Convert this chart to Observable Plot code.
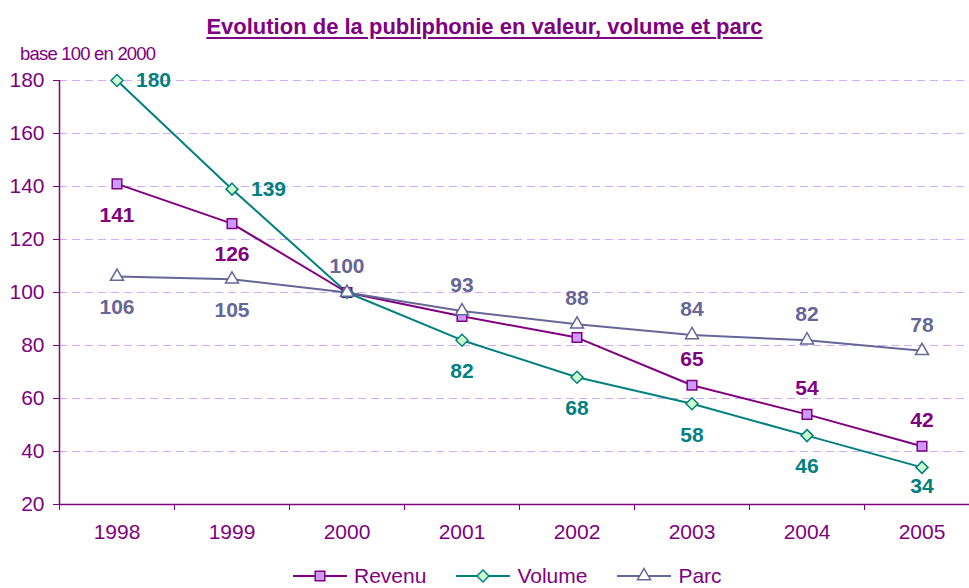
<!DOCTYPE html>
<html><head><meta charset="utf-8">
<script src="https://cdn.jsdelivr.net/npm/d3@7"></script>
<script src="https://cdn.jsdelivr.net/npm/@observablehq/plot@0.6"></script>
<style>
body{margin:0;background:#fff;font-family:"Liberation Sans",Arial,sans-serif;}
#wrap{position:relative;width:969px;height:588px;overflow:hidden;}
#chart{position:absolute;left:0;top:0;}
#title{position:absolute;left:0;width:969px;top:14px;text-align:center;font-weight:bold;font-size:22px;color:#800080;text-decoration:underline;text-underline-offset:3px;text-decoration-thickness:2px;}
#ylab{position:absolute;left:20px;top:43px;font-size:18.5px;color:#800080;letter-spacing:-0.8px;}
#legend{position:absolute;left:293px;top:564px;display:flex;align-items:center;gap:30px;font-size:21px;line-height:23px;color:#800080;}
.item{display:flex;align-items:center;gap:7px;}
</style>
</head><body>
<div id="wrap">
<div id="chart"></div>
<div id="title">Evolution de la publiphonie en valeur, volume et parc</div>
<div id="ylab">base 100 en 2000</div>
<div id="legend"></div>
</div>
<script>
const years = [1998, 1999, 2000, 2001, 2002, 2003, 2004, 2005];
const revenu = [141, 126, 100, 91, 83, 65, 54, 42];
const volume = [180, 139, 100, 82, 68, 58, 46, 34];
const parc   = [106, 105, 100, 93, 88, 84, 82, 78];
const yTicks = [20, 40, 60, 80, 100, 120, 140, 160, 180];
const seriesNames = ["Revenu", "Volume", "Parc"];

// which data labels are shown and where
const labelPlacement = {
  Revenu: ["below", "below", null, null, null, "above", "above", "above"],
  Volume: ["right", "right", null, "below", "below", "below", "below", "near"],
  Parc:   ["below", "below", "above", "above", "above", "above", "above", "above"]
};

const styles = {
  Revenu: {stroke: "#800080", fill: "#cc99ff", symbol: "square", r: 5.4},
  Volume: {stroke: "#008080", fill: "#ccffcc", symbol: "diamond2", r: 5.4},
  Parc:   {stroke: "#666699", fill: "#ffffff", symbol: "triangle2", r: 6.2}
};

const values = {Revenu: revenu, Volume: volume, Parc: parc};
const purple = "#800080";

const xDomain = [years[0] - 0.5, years[years.length - 1] + 0.5];
const boundaries = years.map(y => y - 0.5).concat([years[years.length - 1] + 0.5]);

const marks = [
  Plot.gridY(yTicks.slice(1), {stroke: "#d4aaff", strokeOpacity: 1, strokeDasharray: "8,5", strokeWidth: 1}),
  Plot.ruleY([yTicks[0]], {stroke: purple, strokeWidth: 1.5}),
  Plot.ruleX([xDomain[0]], {stroke: purple, strokeWidth: 1.5}),
  Plot.axisY(yTicks, {tickSize: 6, tickPadding: 9, label: null, stroke: purple, fill: purple}),
  Plot.axisX(boundaries, {tickSize: 6, tickFormat: () => "", label: null, stroke: purple}),
  Plot.axisX(years, {tickSize: 0, tickPadding: 20, tickFormat: "d", label: null, fill: purple})
];

for (const name of seriesNames) {
  const st = styles[name];
  const rows = years.map((yr, i) => ({year: yr, value: values[name][i], place: labelPlacement[name][i]}));
  marks.push(Plot.line(rows, {x: "year", y: "value", stroke: st.stroke, strokeWidth: 2}));
}
for (const name of seriesNames) {
  const st = styles[name];
  const rows = years.map((yr, i) => ({year: yr, value: values[name][i], place: labelPlacement[name][i]}));
  marks.push(Plot.dot(rows, {x: "year", y: "value", symbol: st.symbol, r: st.r, fill: st.fill, stroke: st.stroke, strokeWidth: 1.5}));
  const lab = {x: "year", y: "value", text: d => String(d.value), fill: st.stroke, fontWeight: "bold", fontSize: 21};
  marks.push(Plot.text(rows.filter(d => d.place === "below"), {...lab, dy: 31}));
  marks.push(Plot.text(rows.filter(d => d.place === "near"), {...lab, dy: 19}));
  marks.push(Plot.text(rows.filter(d => d.place === "above"), {...lab, dy: -26}));
  marks.push(Plot.text(rows.filter(d => d.place === "right"), {...lab, dx: 19, textAnchor: "start"}));
}

const chart = Plot.plot({
  width: 969,
  height: 588,
  marginTop: 80,
  marginBottom: 84,
  marginLeft: 59,
  marginRight: -10,
  x: {type: "linear", domain: xDomain},
  y: {domain: [yTicks[0], yTicks[yTicks.length - 1]]},
  style: {fontFamily: "'Liberation Sans', Arial, sans-serif", fontSize: "21px", color: purple, background: "transparent", overflow: "visible"},
  marks
});
document.getElementById("chart").appendChild(chart);

// legend
const legend = d3.select("#legend");
for (const name of seriesNames) {
  const st = styles[name];
  const item = legend.append("div").attr("class", "item");
  const svg = item.append("svg").attr("width", 54).attr("height", 20);
  svg.append("line").attr("x1", 0).attr("x2", 54).attr("y1", 10).attr("y2", 10).attr("stroke", st.stroke).attr("stroke-width", 2);
  const symMap = {square: d3.symbolSquare, diamond2: d3.symbolDiamond2, triangle2: d3.symbolTriangle2};
  svg.append("path").attr("transform", "translate(27,10)")
    .attr("d", d3.symbol(symMap[st.symbol], Math.PI * st.r * st.r)())
    .attr("fill", st.fill).attr("stroke", st.stroke).attr("stroke-width", 1.5);
  item.append("span").text(name);
}
</script>
</body></html>
